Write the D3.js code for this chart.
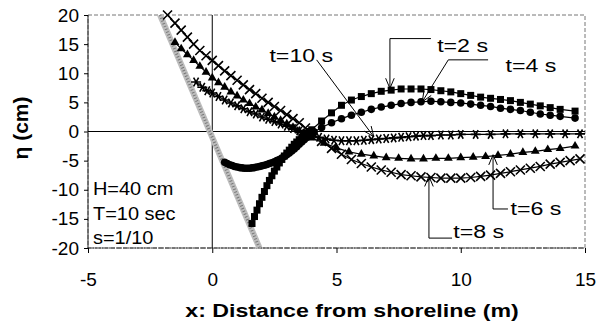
<!DOCTYPE html>
<html>
<head>
<meta charset="utf-8">
<script src="https://cdn.jsdelivr.net/npm/d3@7"></script>
<style>
body { margin: 0; background: #fff; }
text { font-family: "Liberation Sans", Arial, sans-serif; fill: #000; }
</style>
</head>
<body>
<div id="chart"></div>
<script>
// axis ticks
var xTicks = [-5, 0, 5, 10, 15];
var yTicks = [-20, -15, -10, -5, 0, 5, 10, 15, 20];

// beach profile (slope 1/10)
var beachX = [-2.1, 1.9];
var beachY = [20, -20];

// t=2 s (squares)
var t2X = [1.6, 1.7, 1.8, 1.9, 2.0, 2.1, 2.2, 2.3, 2.4, 2.5, 2.6, 2.7, 2.8, 2.9, 3.0, 3.1, 3.2, 3.3, 3.4, 3.5, 3.6, 3.7, 3.8, 3.9, 4.0, 4.4, 4.8, 5.2, 5.6, 6.0, 6.4, 6.8, 7.2, 7.6, 8.0, 8.4, 8.8, 9.2, 9.6, 10.0, 10.4, 10.8, 11.2, 11.6, 12.0, 12.4, 12.8, 13.2, 13.6, 14.0, 14.6];
var t2Y = [-15.8, -14.6, -13.5, -12.4, -11.3, -10.3, -9.3, -8.4, -7.6, -6.8, -6.1, -5.4, -4.8, -4.2, -3.7, -3.2, -2.7, -2.2, -1.8, -1.4, -1.0, -0.6, -0.3, 0.0, 0.3, 1.8, 3.2, 4.5, 5.4, 6.0, 6.5, 6.9, 7.1, 7.3, 7.3, 7.3, 7.2, 7.0, 6.8, 6.5, 6.2, 5.9, 5.7, 5.5, 5.3, 5.0, 4.7, 4.4, 4.1, 3.8, 3.5];

// t=4 s (circles)
var t4X = [0.5, 0.6, 0.7, 0.8, 0.9, 1.0, 1.1, 1.2, 1.3, 1.4, 1.5, 1.6, 1.7, 1.8, 1.9, 2.0, 2.1, 2.2, 2.3, 2.4, 2.5, 2.6, 2.7, 2.8, 2.9, 3.0, 3.1, 3.2, 3.3, 3.4, 3.5, 3.6, 3.7, 3.8, 3.9, 4.0, 4.1, 4.4, 4.8, 5.2, 5.6, 6.0, 6.4, 6.8, 7.2, 7.6, 8.0, 8.4, 8.8, 9.2, 9.6, 10.0, 10.4, 10.8, 11.2, 11.6, 12.0, 12.4, 12.8, 13.2, 13.6, 14.0, 14.6];
var t4Y = [-5.3, -5.5, -5.7, -5.85, -6.0, -6.1, -6.2, -6.25, -6.3, -6.3, -6.3, -6.25, -6.2, -6.1, -6.0, -5.9, -5.8, -5.65, -5.5, -5.35, -5.2, -5.0, -4.8, -4.55, -4.3, -4.0, -3.7, -3.35, -3.0, -2.6, -2.2, -1.8, -1.4, -1.05, -0.7, -0.4, -0.1, 0.7, 1.5, 2.2, 2.8, 3.3, 3.8, 4.2, 4.5, 4.8, 5.0, 5.1, 5.2, 5.1, 5.0, 4.9, 4.7, 4.5, 4.3, 4.0, 3.8, 3.6, 3.3, 3.0, 2.8, 2.6, 2.3];

// t=6 s (triangles)
var t6X = [-1.5, -1.25, -1.0, -0.75, -0.5, -0.25, 0.0, 0.25, 0.5, 0.75, 1.0, 1.25, 1.5, 1.75, 2.0, 2.25, 2.5, 2.75, 3.0, 3.25, 3.5, 3.75, 4.0, 4.5, 5.0, 5.5, 6.0, 6.5, 7.0, 7.5, 8.0, 8.5, 9.0, 9.5, 10.0, 10.5, 11.0, 11.5, 12.0, 12.5, 13.0, 13.5, 14.0, 14.6];
var t6Y = [15.3, 14.2, 13.2, 12.2, 11.2, 10.2, 9.2, 8.4, 7.6, 6.8, 6.1, 5.4, 4.8, 4.2, 3.7, 3.1, 2.5, 1.9, 1.3, 0.7, 0.1, -0.5, -1.1, -2.0, -2.8, -3.5, -3.9, -4.2, -4.5, -4.6, -4.7, -4.7, -4.6, -4.6, -4.5, -4.4, -4.3, -4.1, -3.9, -3.6, -3.4, -3.1, -2.9, -2.5];

// t=8 s (crosses)
var t8X = [-1.8, -1.5, -1.25, -1.0, -0.75, -0.5, -0.25, 0.0, 0.25, 0.5, 0.75, 1.0, 1.25, 1.5, 1.75, 2.0, 2.25, 2.5, 2.75, 3.0, 3.25, 3.5, 3.75, 4.0, 4.4, 4.8, 5.2, 5.6, 6.0, 6.4, 6.8, 7.2, 7.6, 8.0, 8.4, 8.8, 9.2, 9.6, 10.0, 10.4, 10.8, 11.2, 11.6, 12.0, 12.4, 12.8, 13.2, 13.6, 14.0, 14.4, 14.8];
var t8Y = [20.0, 18.6, 17.4, 16.2, 15.0, 13.9, 13.0, 12.2, 11.3, 10.4, 9.6, 8.8, 8.0, 7.2, 6.5, 5.7, 5.0, 4.3, 3.6, 2.9, 2.2, 1.5, 0.6, -0.3, -1.7, -2.9, -3.9, -4.8, -5.5, -6.1, -6.6, -7.0, -7.4, -7.6, -7.8, -7.9, -8.0, -8.0, -8.0, -7.9, -7.7, -7.5, -7.2, -6.9, -6.6, -6.3, -6.0, -5.6, -5.3, -5.0, -4.7];

// t=10 s (asterisks)
var t10X = [-0.65, -0.4, -0.2, 0.0, 0.25, 0.5, 0.75, 1.0, 1.25, 1.5, 1.75, 2.0, 2.25, 2.5, 2.75, 3.0, 3.25, 3.5, 3.75, 4.0, 4.3, 4.6, 4.9, 5.2, 5.5, 5.8, 6.1, 6.4, 6.7, 7.0, 7.3, 7.6, 7.9, 8.2, 8.5, 8.8, 9.2, 9.6, 10.0, 10.6, 11.2, 11.8, 12.4, 13.0, 13.6, 14.2, 14.8];
var t10Y = [8.5, 7.6, 7.0, 6.6, 6.0, 5.4, 4.9, 4.4, 3.9, 3.4, 3.0, 2.5, 2.1, 1.7, 1.3, 0.9, 0.5, 0.1, -0.3, -0.7, -1.0, -1.3, -1.5, -1.6, -1.6, -1.6, -1.5, -1.4, -1.3, -1.2, -1.1, -1.0, -0.9, -0.8, -0.7, -0.7, -0.6, -0.6, -0.5, -0.5, -0.5, -0.4, -0.4, -0.4, -0.4, -0.4, -0.4];

// callouts: label, text position, elbow and arrow tip (data units)
var calloutLabels = ["t=10 s", "t=2 s", "t=4 s", "t=6 s", "t=8 s"];
var calloutText = [[2.3, 12.0], [9.05, 13.6], [11.8, 10.2], [12.0, -14.3], [9.7, -18.3]];
var calloutElbow = [[[4.2, 12.3]], [[8.8, 15.95], [7.15, 15.95]], [[11.1, 12.3], [9.5, 12.3]], [[11.9, -13.3], [11.3, -13.3]], [[9.65, -18.3], [8.72, -18.3]]];
var calloutTip = [[6.5, -0.9], [7.15, 7.4], [8.45, 5.1], [11.3, -4.0], [8.72, -7.7]];

var notes = ["H=40 cm", "T=10 sec", "s=1/10"];

var width = 602, height = 327;
var svg = d3.select("#chart").append("svg")
    .attr("width", width)
    .attr("height", height);

var x = d3.scaleLinear().domain([-5, 15]).range([88, 585]);
var y = d3.scaleLinear().domain([-20, 20]).range([248, 15]);

// plot frame
svg.append("rect")
    .attr("x", x(-5)).attr("y", y(20))
    .attr("width", x(15) - x(-5)).attr("height", y(-20) - y(20))
    .attr("fill", "none").attr("stroke", "#777").attr("stroke-dasharray", "4,2");
svg.append("line")
    .attr("x1", x(-5)).attr("x2", x(-5)).attr("y1", y(20)).attr("y2", y(-20))
    .attr("stroke", "#222");
svg.append("line")
    .attr("x1", x(-5)).attr("x2", x(15)).attr("y1", y(-20)).attr("y2", y(-20))
    .attr("stroke", "#333").attr("stroke-dasharray", "6,1");

// zero lines
svg.append("line")
    .attr("x1", x(0)).attr("x2", x(0)).attr("y1", y(20)).attr("y2", y(-20))
    .attr("stroke", "#000");
svg.append("line")
    .attr("x1", x(-5)).attr("x2", x(15)).attr("y1", y(0)).attr("y2", y(0))
    .attr("stroke", "#000");

// axes (plain hyphen minus, as in the original)
var fmt = function(d) { return String(d); };

var yAxis = svg.append("g")
    .attr("transform", "translate(" + x(-5) + ",0)")
    .call(d3.axisLeft(y).tickValues(yTicks).tickFormat(fmt).tickSize(4).tickPadding(5));
yAxis.select(".domain").remove();
yAxis.selectAll("text").style("font-size", "19px");

var xAxis = svg.append("g")
    .attr("transform", "translate(0," + y(-20) + ")")
    .call(d3.axisBottom(x).tickValues(xTicks).tickFormat(fmt).tickSize(5).tickPadding(20));
xAxis.select(".domain").remove();
xAxis.selectAll("text").style("font-size", "19px");

// beach
var beach = beachX.map(function(d, i) { return [d, beachY[i]]; });
var line = d3.line().x(function(d) { return x(d[0]); }).y(function(d) { return y(d[1]); });
svg.append("path").attr("d", line(beach))
    .attr("fill", "none").attr("stroke", "#bdbdbd").attr("stroke-width", 6);
svg.append("path").attr("d", line(beach))
    .attr("fill", "none").attr("stroke", "#777").attr("stroke-width", 3)
    .attr("stroke-dasharray", "1,2");

// series
function crossPath(r) {
    return "M" + (-r) + "," + (-r) + "L" + r + "," + r + "M" + (-r) + "," + r + "L" + r + "," + (-r);
}
function starPath(r) {
    var a = r * 0.87, b = r * 0.5;
    return "M" + (-r) + ",0L" + r + ",0M" + (-b) + "," + (-a) + "L" + b + "," + a + "M" + (-b) + "," + a + "L" + b + "," + (-a);
}

var series = [
    {xs: t2X, ys: t2Y, kind: "square"},
    {xs: t4X, ys: t4Y, kind: "circle"},
    {xs: t6X, ys: t6Y, kind: "triangle"},
    {xs: t8X, ys: t8Y, kind: "cross"},
    {xs: t10X, ys: t10Y, kind: "star"}
];

series.forEach(function(s) {
    var pts = s.xs.map(function(d, i) { return [d, s.ys[i]]; });
    svg.append("path").attr("d", line(pts))
        .attr("fill", "none").attr("stroke", "#000").attr("stroke-width", 1.2);

    var g = svg.append("g");
    var m = g.selectAll("path").data(pts).enter().append("path")
        .attr("transform", function(d) { return "translate(" + x(d[0]) + "," + y(d[1]) + ")"; });
    if (s.kind == "square") {
        m.attr("d", d3.symbol().type(d3.symbolSquare).size(49)).attr("fill", "#000");
    } else if (s.kind == "circle") {
        m.attr("d", d3.symbol().type(d3.symbolCircle).size(45)).attr("fill", "#000");
    } else if (s.kind == "triangle") {
        m.attr("d", d3.symbol().type(d3.symbolTriangle).size(34)).attr("fill", "#000");
    } else if (s.kind == "cross") {
        m.attr("d", crossPath(4.5)).attr("fill", "none").attr("stroke", "#000").attr("stroke-width", 1.6);
    } else {
        m.attr("d", starPath(5)).attr("fill", "none").attr("stroke", "#000").attr("stroke-width", 1.6);
    }
});

// callouts
function arrowHead(tip, from) {
    var tx = x(tip[0]), ty = y(tip[1]);
    var ang = Math.atan2(y(from[1]) - ty, x(from[0]) - tx);
    var len = 11, spread = 0.4;
    return "M" + (tx + len * Math.cos(ang - spread)) + "," + (ty + len * Math.sin(ang - spread)) +
        "L" + tx + "," + ty +
        "L" + (tx + len * Math.cos(ang + spread)) + "," + (ty + len * Math.sin(ang + spread));
}

calloutLabels.forEach(function(lab, i) {
    var pts = calloutElbow[i].concat([calloutTip[i]]);
    svg.append("path").attr("d", line(pts))
        .attr("fill", "none").attr("stroke", "#000").attr("stroke-width", 1);
    svg.append("path").attr("d", arrowHead(calloutTip[i], pts[pts.length - 2]))
        .attr("fill", "none").attr("stroke", "#000").attr("stroke-width", 1);
    svg.append("text")
        .attr("transform", "translate(" + x(calloutText[i][0]) + "," + y(calloutText[i][1]) + ") scale(1.22,1)")
        .style("font-size", "19px")
        .text(lab);
});

// parameter notes
svg.selectAll(".note").data(notes).enter().append("text")
    .attr("class", "note")
    .attr("transform", function(d, i) { return "translate(" + x(-4.8) + "," + (195 + i * 24.5) + ") scale(1.05,1)"; })
    .style("font-size", "19px")
    .text(function(d) { return d; });

// axis titles
svg.append("text")
    .attr("transform", "translate(352,317) scale(1.22,1)")
    .attr("text-anchor", "middle")
    .style("font-size", "19px").style("font-weight", "bold")
    .text("x: Distance from shoreline (m)");

svg.append("text")
    .attr("transform", "translate(28,128) rotate(-90)")
    .attr("text-anchor", "middle")
    .style("font-size", "21px").style("font-weight", "bold")
    .text("η  (cm)");
</script>
</body>
</html>
